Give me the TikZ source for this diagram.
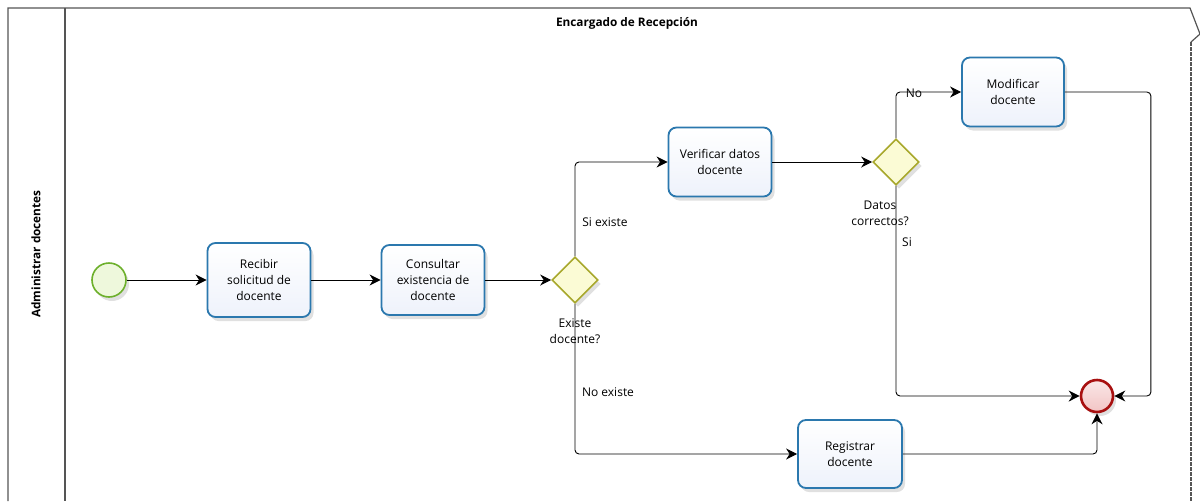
\documentclass[tikz,border=0pt]{standalone}
\usepackage{fontspec}
\setmainfont{Open Sans}
\usetikzlibrary{shapes.geometric,arrows.meta,shadows}
\definecolor{taskline}{HTML}{2B78AE}
\definecolor{taskfill}{HTML}{EEF2FB}
\definecolor{gwline}{HTML}{A8A82C}
\definecolor{gwfill}{HTML}{FBFBD5}
\definecolor{stline}{HTML}{6DB02C}
\definecolor{stfill}{HTML}{EEF8DC}
\definecolor{enline}{HTML}{A81010}
\definecolor{enfill}{HTML}{F2C4C4}
\definecolor{poolline}{HTML}{555555}
\tikzset{
  x=1pt, y=-1pt,
  lbl/.style={font=\fontsize{12}{16}\selectfont, align=center, inner sep=0pt},
  task/.style={draw=taskline, line width=1.8pt, rounded corners=8pt,
    top color=white, bottom color=taskfill, align=center,
    font=\fontsize{12}{16}\selectfont, inner sep=0pt,
    drop shadow={shadow xshift=3pt, shadow yshift=-4pt, fill=black, opacity=0.12}},
  gate/.style={diamond, draw=gwline, line width=1.6pt, fill=gwfill, inner sep=0pt,
    minimum width=46pt, minimum height=46pt,
    drop shadow={shadow xshift=3pt, shadow yshift=-4pt, fill=black, opacity=0.12}},
  startev/.style={circle, draw=stline, line width=1.6pt, fill=stfill, minimum size=34pt, inner sep=0pt,
    drop shadow={shadow xshift=3pt, shadow yshift=-4pt, fill=black, opacity=0.12}},
  endev/.style={circle, draw=enline, line width=2.6pt, top color=white!60!enfill, bottom color=enfill, minimum size=32pt, inner sep=0pt,
    drop shadow={shadow xshift=3pt, shadow yshift=-4pt, fill=black, opacity=0.12}},
  flow/.style={draw=black, line width=0.9pt, rounded corners=4pt,
    -{Stealth[length=11pt,width=11pt,inset=3.5pt]}},
  poolln/.style={draw=poolline, line width=1.2pt},
  poolttl/.style={font=\bfseries\fontsize{11.8}{14}\selectfont, inner sep=0pt},
}
\begin{document}
\begin{tikzpicture}
\useasboundingbox (0,0) rectangle (1200,501);
% pool
\draw[poolln] (8,501) -- (8,8) -- (1190,8) -- (1200,34) -- (1191,42);
\draw[poolln, dashed, dash pattern=on 4pt off 1pt] (1191,42) -- (1191,501);
\draw[poolln] (65,8) -- (65,501);
\node[poolttl] (title) at (627,23) {Encargado de Recepción};
\node[poolttl, rotate=90] (lane) at (36,254) {Administrar docentes};
% nodes
\node[startev] (s) at (109,280) {};
\node[task, minimum width=103pt, minimum height=74pt] (t1) at (259,280) {Recibir\\solicitud de\\docente};
\node[task, minimum width=103pt, minimum height=70pt] (t2) at (433,280) {Consultar\\existencia de\\docente};
\node[gate] (g1) at (575,280) {};
\node[task, minimum width=103pt, minimum height=69pt] (t3) at (720,162) {Verificar datos\\docente};
\node[gate] (g2) at (896,162) {};
\node[task, minimum width=102pt, minimum height=69pt] (t4) at (1013,92) {Modificar\\docente};
\node[task, minimum width=104pt, minimum height=68pt] (t5) at (850,454) {Registrar\\docente};
\node[endev] (e) at (1097,396) {};
% connectors
\draw[flow] (s) -- (t1);
\draw[flow] (t1) -- (t2);
\draw[flow] (t2) -- (g1);
\draw[flow] (g1.north) |- (t3.west);
\draw[flow] (g1.south) |- (t5.west);
\draw[flow] (t3) -- (g2);
\draw[flow] (g2.north) |- (t4.west);
\draw[flow] (t4.east) -- ++(86,0) |- (e.east);
\draw[flow] (g2.south) |- (e.west);
\draw[flow] (t5.east) -| (e.south);
% labels
\node[lbl] (lg1) at (575,331) {Existe\\docente?};
\node[lbl] (lsi) at (605,222) {Si existe};
\node[lbl] (lno) at (608,392) {No existe};
\node[lbl] (lg2) at (880,213) {Datos\\correctos?};
\node[lbl] (lno2) at (914,93) {No};
\node[lbl] (lsi2) at (907,242) {Si};
\end{tikzpicture}
\end{document}
